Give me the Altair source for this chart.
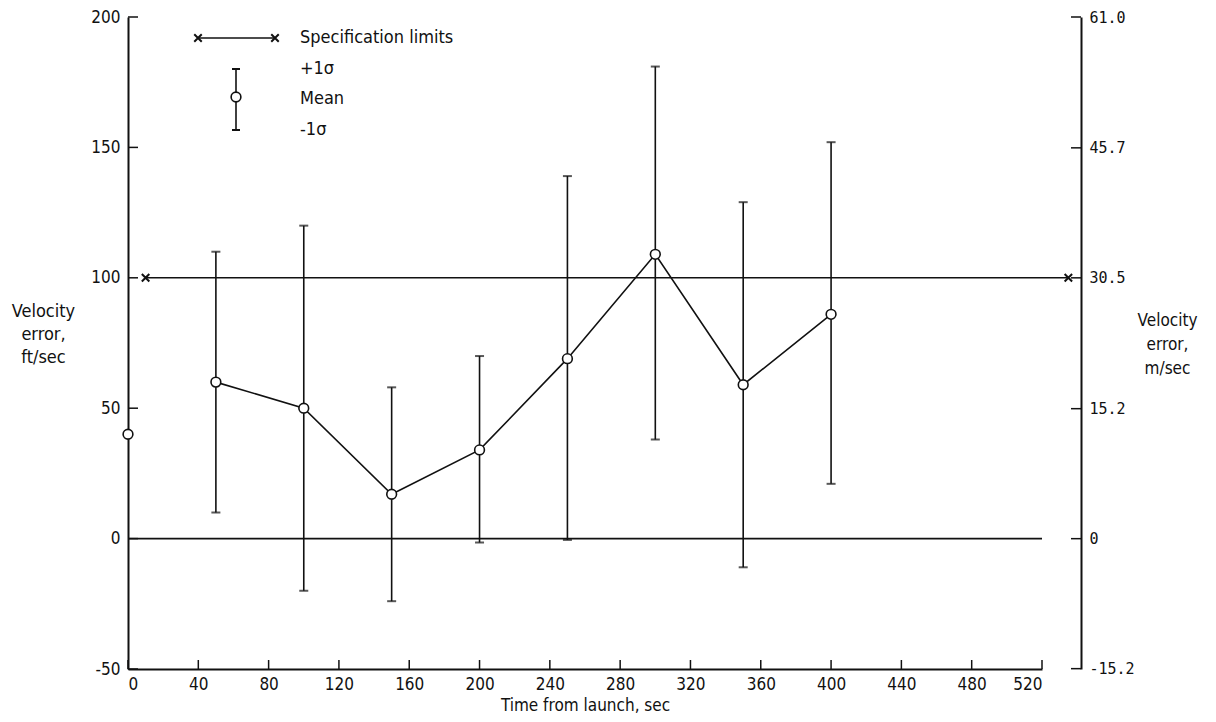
import altair as alt
import pandas as pd

# ---------------- data ----------------
TIME = [0, 50, 100, 150, 200, 250, 300, 350, 400]
MEAN = [40, 60, 50, 17, 34, 69, 109, 59, 86]
PLUS_1SIGMA = [None, 110, 120, 58, 70, 139, 181, 129, 152]
MINUS_1SIGMA = [None, 10, -20, -24, -1.5, -0.5, 38, -11, 21]

SPEC_LIMIT = 100
SPEC_T = [10, 535]
ZERO_T = [0, 520]

X_TICKS = list(range(0, 521, 40))
Y_TICKS_FT = [-50, 0, 50, 100, 150, 200]
Y_TICKS_M = [-15.2, 0, 15.2, 30.5, 45.7, 61.0]

# ---------------- layout / style ----------------
W, H = 914, 652
R_OFF = 39
FONT = "DejaVu Sans Condensed, Liberation Sans Narrow, DejaVu Sans, sans-serif"
MONO = "DejaVu Sans Mono, Liberation Mono, monospace"
INK = "#111111"
XPATH = "M-1,-1L1,1M-1,1L1,-1"

df = pd.DataFrame({"t": TIME, "mean": MEAN, "hi": PLUS_1SIGMA, "lo": MINUS_1SIGMA})
df_bars = df.dropna()
df_line = df[df["t"] > 0]
df_zero = pd.DataFrame({"t": ZERO_T, "v": [0] * len(ZERO_T)})
df_spec = pd.DataFrame({"t": SPEC_T, "v": [SPEC_LIMIT] * len(SPEC_T)})

xs = alt.Scale(domain=[0, 520], nice=False, zero=False)
ys = alt.Scale(domain=[-50, 200], nice=False, zero=False)
ys_m = alt.Scale(domain=[-15.24, 61.0], nice=False, zero=False)

x_axis = alt.Axis(
    values=X_TICKS, tickSize=0, labelPadding=7, grid=False,
    domainColor=INK, domainWidth=2,
    labelFont=FONT, labelFontSize=17, labelColor=INK,
    title="Time from launch, sec", titleFont=FONT, titleFontSize=17,
    titleFontWeight="normal", titleColor=INK, titlePadding=5,
)
y_axis = alt.Axis(
    values=Y_TICKS_FT, tickSize=0, labelPadding=8, grid=False,
    domainColor=INK, domainWidth=2,
    labelExpr="'' + datum.value",
    labelFont=FONT, labelFontSize=17, labelColor=INK,
    title=["Velocity", "error,", "ft/sec"], titleAngle=0, titleAlign="center",
    titleBaseline="top", titleX=-85, titleY=285, titleLineHeight=23,
    titleFont=FONT, titleFontSize=18, titleFontWeight="normal", titleColor=INK,
)
y_axis_m = alt.Axis(
    orient="right", offset=R_OFF, values=Y_TICKS_M, tickSize=0, labelPadding=8,
    grid=False, domainColor=INK, domainWidth=2,
    labelExpr="datum.value == 0 ? '0' : (datum.value < 0 ? '-' : '') + format(abs(datum.value), '.1f')",
    labelFont=MONO, labelFontSize=15, labelColor=INK,
    title=["Velocity", "error,", "m/sec"], titleAngle=0, titleAlign="center",
    titleBaseline="top", titleX=86, titleY=295, titleLineHeight=24,
    titleFont=FONT, titleFontSize=17, titleFontWeight="normal", titleColor=INK,
)


def X(field):
    return alt.X(field, type="quantitative", scale=xs, axis=x_axis)


def Y(field):
    return alt.Y(field, type="quantitative", scale=ys, axis=y_axis)


base = alt.Chart(df)

# inward-pointing axis ticks
y_ticks = alt.Chart(pd.DataFrame({"v": Y_TICKS_FT})).mark_rule(color=INK, strokeWidth=1.5).encode(
    y=Y("v"), x=alt.value(0), x2=alt.value(10)
)
x_ticks = alt.Chart(pd.DataFrame({"t": X_TICKS})).mark_rule(color=INK, strokeWidth=1.5).encode(
    x=X("t"), y=alt.value(H), y2=alt.value(H - 9)
)

zero_line = alt.Chart(df_zero).mark_line(color=INK, strokeWidth=1.6).encode(x=X("t"), y=Y("v"))
spec_line = alt.Chart(df_spec).mark_line(color=INK, strokeWidth=1.6).encode(x=X("t"), y=Y("v"))
spec_marks = alt.Chart(df_spec).mark_point(
    shape=XPATH, size=56, stroke=INK, strokeWidth=2, filled=False, opacity=1
).encode(x=X("t"), y=Y("v"))

bars = alt.Chart(df_bars).mark_rule(color=INK, strokeWidth=1.6).encode(
    x=X("t"), y=Y("lo"), y2="hi"
)
cap_hi = alt.Chart(df_bars).mark_tick(color=INK, orient="horizontal", size=9, thickness=2).encode(
    x=X("t"), y=Y("hi")
)
cap_lo = alt.Chart(df_bars).mark_tick(color=INK, orient="horizontal", size=9, thickness=2).encode(
    x=X("t"), y=Y("lo")
)
mean_line = alt.Chart(df_line).mark_line(color=INK, strokeWidth=1.6).encode(x=X("t"), y=Y("mean"))
mean_pts = base.mark_point(
    shape="circle", size=95, filled=True, fill="white", stroke=INK, strokeWidth=1.6, opacity=1
).encode(x=X("t"), y=Y("mean"))

# legend (top-left)
one = alt.Chart(pd.DataFrame({"k": [0]}))
leg_line = one.mark_rule(color=INK, strokeWidth=1.6).encode(
    x=alt.value(70), x2=alt.value(147), y=alt.value(21)
)
leg_x1 = one.mark_point(shape=XPATH, size=56, stroke=INK, strokeWidth=2, filled=False, opacity=1).encode(
    x=alt.value(70), y=alt.value(21)
)
leg_x2 = one.mark_point(shape=XPATH, size=56, stroke=INK, strokeWidth=2, filled=False, opacity=1).encode(
    x=alt.value(147), y=alt.value(21)
)
leg_bar = one.mark_rule(color=INK, strokeWidth=1.6).encode(
    x=alt.value(108), y=alt.value(52), y2=alt.value(113)
)
leg_cap1 = one.mark_rule(color=INK, strokeWidth=2).encode(
    x=alt.value(104), x2=alt.value(112), y=alt.value(52)
)
leg_cap2 = one.mark_rule(color=INK, strokeWidth=2).encode(
    x=alt.value(104), x2=alt.value(112), y=alt.value(113)
)
leg_pt = one.mark_point(
    shape="circle", size=95, filled=True, fill="white", stroke=INK, strokeWidth=1.6, opacity=1
).encode(x=alt.value(108), y=alt.value(80))


def leg_text(txt, y):
    return one.mark_text(align="left", baseline="middle", font=FONT, fontSize=18, color=INK).encode(
        x=alt.value(172), y=alt.value(y), text=alt.value(txt)
    )


main = alt.layer(
    y_ticks, x_ticks,
    zero_line, spec_line, bars, cap_hi, cap_lo, mean_line, mean_pts, spec_marks,
    leg_line, leg_x1, leg_x2, leg_bar, leg_cap1, leg_cap2, leg_pt,
    leg_text("Specification limits", 21), leg_text("+1σ", 52),
    leg_text("Mean", 82), leg_text("-1σ", 113),
)

right = alt.Chart(pd.DataFrame({"m": Y_TICKS_M})).mark_rule(color=INK, strokeWidth=1.5).encode(
    y=alt.Y("m:Q", scale=ys_m, axis=y_axis_m),
    x=alt.value(W + R_OFF - 10), x2=alt.value(W + R_OFF),
)

chart = (
    alt.layer(main, right)
    .resolve_scale(y="independent")
    .properties(
        width=W, height=H,
        padding={"left": 120, "top": 9, "right": 166, "bottom": 45},
        autosize=alt.AutoSizeParams(type="none"),
        background="white",
    )
    .configure_view(stroke=None)
)

chart.save("out.html", embed_options={"renderer": "svg", "actions": False})
